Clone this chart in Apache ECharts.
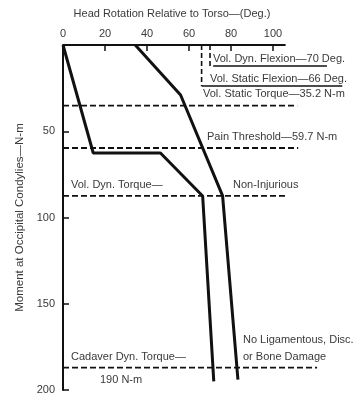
<!DOCTYPE html>
<html>
<head>
<meta charset="utf-8">
<style>html,body{margin:0;padding:0;background:#fff}#c{width:354px;height:396px}</style>
<script src="https://cdn.jsdelivr.net/npm/echarts@6/dist/echarts.min.js"></script>
</head>
<body>
<div id="c"></div>
<script>
// ---- data ----
const xTickValues = [20, 40, 60, 80, 100];
const xLabelValues = [0, 20, 40, 60, 80, 100];
const yTickValues = [50, 100, 150, 200];
const xAxisEnd = [[0, 0], [106, 0]];
// response curves (deg, N-m)
const curveLeft = [[0, 0], [14.4, 62.6], [46.4, 62.6], [66.5, 87.5], [71.8, 195]];
const curveRight = [[34.4, 0], [56, 29], [76, 87.5], [83.3, 194]];
// horizontal torque thresholds (N-m) and how far their dashes run (deg)
const torqueLevels = [35.2, 59.7, 87.5, 187];
const torqueEnds = [111.5, 112, 106.7, 121];
// vertical flexion limits (deg), depth of the bracket (N-m), and underline end (deg)
const flexionAngles = [66, 70];
const flexionDepth = [23.8, 12.2];
const flexionUnderlineStart = [66, 71.5];
const flexionUnderlineEnd = [133, 125.7];

const FONT = 'Liberation Sans';
const TXT = '#3a3a3a';
const INK = '#111';

const series = [];
series.push({type: 'line', data: xAxisEnd, symbol: 'none', clip: false,
  lineStyle: {color: INK, width: 2}});
series.push({type: 'line', data: curveLeft, symbol: 'none', clip: false,
  lineStyle: {color: INK, width: 3}});
series.push({type: 'line', data: curveRight, symbol: 'none', clip: false,
  lineStyle: {color: INK, width: 3}});
torqueLevels.forEach((m, i) => {
  series.push({type: 'line', data: [[0, m], [torqueEnds[i], m]], symbol: 'none', clip: false,
    lineStyle: {color: INK, width: 1.8, type: [6, 3]}});
});
flexionAngles.forEach((a, i) => {
  series.push({type: 'line', data: [[a, 0], [a, flexionDepth[i]]], symbol: 'none', clip: false,
    lineStyle: {color: INK, width: 1.6, type: [5, 3]}});
  series.push({type: 'line', data: [[flexionUnderlineStart[i], flexionDepth[i]], [flexionUnderlineEnd[i], flexionDepth[i]]],
    symbol: 'none', clip: false, lineStyle: {color: INK, width: 1.6}});
});

const texts = [
  ['Vol. Dyn. Flexion\u201470 Deg.', 213, 59],
  ['Vol. Static Flexion\u201466 Deg.', 210, 79],
  ['Vol. Static Torque\u201435.2 N-m', 203, 94],
  ['Pain Threshold\u201459.7 N-m', 207, 137],
  ['Vol. Dyn. Torque\u2014', 71, 185],
  ['Non-Injurious', 233, 185],
  ['No Ligamentous, Disc.', 243, 340],
  ['or Bone Damage', 243, 357],
  ['Cadaver Dyn. Torque\u2014', 71, 357],
  ['190 N-m', 100, 380]
];

const chart = echarts.init(document.getElementById('c'), null, {renderer: 'canvas'});
chart.setOption({
  animation: false,
  backgroundColor: '#fff',
  grid: {left: 63, top: 45, width: 283.5, height: 345, containLabel: false},
  xAxis: {
    type: 'value', position: 'top', min: 0, max: 135,
    axisLine: {show: false},
    splitLine: {show: false},
    axisTick: {show: true, inside: true, length: 6, customValues: xTickValues, lineStyle: {color: INK, width: 1.5}},
    axisLabel: {customValues: xLabelValues, margin: 6, fontFamily: FONT, fontSize: 11, color: TXT}
  },
  yAxis: {
    type: 'value', inverse: true, min: 0, max: 200, interval: 50,
    name: 'Moment at Occipital Condylies\u2014N-m', nameLocation: 'middle', nameGap: 36,
    nameTextStyle: {fontFamily: FONT, fontSize: 11.5, color: TXT},
    axisLine: {show: true, lineStyle: {color: INK, width: 2}},
    splitLine: {show: false},
    axisTick: {show: true, inside: true, length: 6, customValues: yTickValues, lineStyle: {color: INK, width: 1.5}},
    axisLabel: {customValues: yTickValues, margin: 8, fontFamily: FONT, fontSize: 11, color: TXT}
  },
  graphic: [{
    type: 'text', x: 172, y: 14,
    style: {text: 'Head Rotation Relative to Torso\u2014(Deg.)', fontFamily: FONT, fontSize: 11,
      fill: TXT, align: 'center', verticalAlign: 'middle'}
  }].concat(texts.map(t => ({
    type: 'text', x: t[1], y: t[2],
    style: {text: t[0], fontFamily: FONT, fontSize: 11, fill: TXT, verticalAlign: 'middle'}
  }))),
  series: series
});
</script>
</body>
</html>
